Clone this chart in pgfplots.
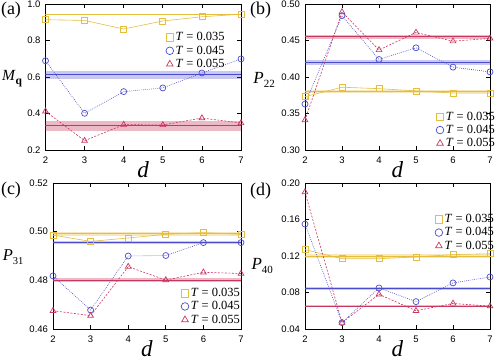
\documentclass[border=0pt]{standalone}
\usepackage{pgfplots}
\pgfplotsset{compat=1.18}
\usepackage{fontspec}
\setmainfont{Liberation Serif}
\setsansfont{Liberation Sans}
\definecolor{cy}{RGB}{228,190,60}
\definecolor{cb}{RGB}{75,75,205}
\definecolor{cr}{RGB}{200,55,95}
\pgfplotsset{
  panel/.style={
    scale only axis, height=146pt, anchor=south west,
    xmin=2, xmax=7, xtick={2,3,4,5,6,7},
    tick align=inside, major tick length=4pt,
    axis line style={line width=0.9pt},
    tick style={black, line width=0.6pt},
    /pgf/number format/assume math mode=true,
    ticklabel style={font=\sffamily\fontsize{9.5}{11}\selectfont},
    xticklabel style={yshift=-3pt},
    yticklabel style={xshift=-1.5pt},
    xlabel={\fontsize{23}{24}\selectfont\textit{d}},
    every axis x label/.style={at={(axis description cs:0.5,-0.136)}, anchor=center, inner sep=0pt},
    legend cell align=left,
    every legend image post/.style={mark size=3.8pt},
  },
  bandY/.style={draw=none, fill=cy, fill opacity=0.35, forget plot},
  bandB/.style={draw=none, fill=cb, fill opacity=0.3, forget plot},
  bandR/.style={draw=none, fill=cr, fill opacity=0.35, forget plot},
  meanY/.style={cy, line width=0.9pt, forget plot},
  meanB/.style={cb, line width=0.9pt, forget plot},
  meanR/.style={cr, line width=0.9pt, forget plot},
  lineY/.style={cy, line width=0.6pt, solid, forget plot},
  lineB/.style={cb, line width=0.6pt, dash pattern=on 0.8pt off 1.2pt, forget plot},
  lineR/.style={cr, line width=0.6pt, dash pattern=on 2pt off 1.5pt, forget plot},
  markY/.style={color=cy, only marks, mark=square, mark size=3pt, mark options={draw=cy, line width=0.7pt, solid}},
  markB/.style={color=cb, only marks, mark=o, mark size=3pt, mark options={draw=cb, line width=0.7pt, solid}},
  markR/.style={color=cr, only marks, mark=triangle, mark size=3.3pt, mark options={draw=cr, line width=0.7pt, solid}},
}
\begin{document}
\begin{tikzpicture}[x=1pt,y=1pt]
\path[use as bounding box] (0,0) rectangle (498,359);
% ---------------- (a)
\begin{axis}[panel, at={(45.5pt,209pt)}, width=195.5pt,
  ymin=0.2, ymax=1.0, ytick={0.2,0.4,0.6,0.8,1.0},
  yticklabel style={/pgf/number format/.cd, fixed, fixed zerofill, precision=1},
  ylabel={\fontsize{15.5}{16}\selectfont\textit{M}\raisebox{-3.5pt}{\fontsize{11.5}{12}\selectfont\textbf{q}}},
  every axis y label/.style={at={(axis description cs:-0.223,0.49)}, anchor=west, inner sep=0pt},
  legend style={draw=none, fill=none, font=\fontsize{12.5}{14}\selectfont, row sep=-0.5pt, at={(axis description cs:0.600,0.833)}, anchor=north west}]
\addplot[bandY] coordinates {(2,0.937) (7,0.937) (7,0.945) (2,0.945)};
\addplot[bandB] coordinates {(2,0.591) (7,0.591) (7,0.635) (2,0.635)};
\addplot[bandR] coordinates {(2,0.304) (7,0.304) (7,0.360) (2,0.360)};
\addplot[meanY] coordinates {(2,0.941) (7,0.941)};
\addplot[meanB] coordinates {(2,0.613) (7,0.613)};
\addplot[meanR] coordinates {(2,0.332) (7,0.332)};
\addplot[lineY] coordinates {(2,0.914) (3,0.910) (4,0.863) (5,0.907) (6,0.930) (7,0.944)};
\addplot[lineB] coordinates {(2,0.689) (3,0.401) (4,0.520) (5,0.540) (6,0.622) (7,0.699)};
\addplot[lineR] coordinates {(2,0.412) (3,0.251) (4,0.339) (5,0.337) (6,0.375) (7,0.348)};
\addplot[markY] coordinates {(2,0.914) (3,0.910) (4,0.863) (5,0.907) (6,0.930) (7,0.944)};
\addplot[markB] coordinates {(2,0.689) (3,0.401) (4,0.520) (5,0.540) (6,0.622) (7,0.699)};
\addplot[markR] coordinates {(2,0.412) (3,0.251) (4,0.339) (5,0.337) (6,0.375) (7,0.348)};
\legend{\textit{T} = 0.035, \textit{T} = 0.045, \textit{T} = 0.055}
\end{axis}
% ---------------- (b)
\begin{axis}[panel, at={(305pt,209pt)}, width=185pt,
  ymin=0.30, ymax=0.50, ytick={0.30,0.35,0.40,0.45,0.50},
  yticklabel style={/pgf/number format/.cd, fixed, fixed zerofill, precision=2},
  ylabel={\fontsize{17}{18}\selectfont\textit{P}\raisebox{-4pt}{\fontsize{11}{12}\selectfont 22}},
  every axis y label/.style={at={(axis description cs:-0.28,0.48)}, anchor=west, inner sep=0pt},
  legend style={draw=none, fill=none, font=\fontsize{12.5}{14}\selectfont, row sep=-0.5pt, at={(axis description cs:0.692,0.29)}, anchor=north west}]
\addplot[bandY] coordinates {(2,0.378) (7,0.378) (7,0.382) (2,0.382)};
\addplot[bandB] coordinates {(2,0.417) (7,0.417) (7,0.423) (2,0.423)};
\addplot[bandR] coordinates {(2,0.452) (7,0.452) (7,0.458) (2,0.458)};
\addplot[meanY] coordinates {(2,0.380) (7,0.380)};
\addplot[meanB] coordinates {(2,0.420) (7,0.420)};
\addplot[meanR] coordinates {(2,0.455) (7,0.455)};
\addplot[lineY] coordinates {(2,0.373) (3,0.386) (4,0.384) (5,0.381) (6,0.378) (7,0.378)};
\addplot[lineB] coordinates {(2,0.363) (3,0.484) (4,0.424) (5,0.440) (6,0.4135) (7,0.407)};
\addplot[lineR] coordinates {(2,0.341) (3,0.489) (4,0.437) (5,0.461) (6,0.449) (7,0.453)};
\addplot[markY] coordinates {(2,0.373) (3,0.386) (4,0.384) (5,0.381) (6,0.378) (7,0.378)};
\addplot[markB] coordinates {(2,0.363) (3,0.484) (4,0.424) (5,0.440) (6,0.4135) (7,0.407)};
\addplot[markR] coordinates {(2,0.341) (3,0.489) (4,0.437) (5,0.461) (6,0.449) (7,0.453)};
\legend{\textit{T} = 0.035, \textit{T} = 0.045, \textit{T} = 0.055}
\end{axis}
% ---------------- (c)
\begin{axis}[panel, at={(53pt,30pt)}, width=188pt,
  ymin=0.46, ymax=0.52, ytick={0.46,0.48,0.50,0.52},
  yticklabel style={/pgf/number format/.cd, fixed, fixed zerofill, precision=2},
  ylabel={\fontsize{16.5}{17}\selectfont\textit{P}\raisebox{-4pt}{\fontsize{10.5}{11}\selectfont 31}},
  every axis y label/.style={at={(axis description cs:-0.268,0.49)}, anchor=west, inner sep=0pt},
  legend style={draw=none, fill=none, font=\fontsize{12.5}{14}\selectfont, row sep=-0.5pt, at={(axis description cs:0.665,0.308)}, anchor=north west}]
\addplot[bandY] coordinates {(2,0.4984) (7,0.4984) (7,0.5000) (2,0.5000)};
\addplot[bandB] coordinates {(2,0.4948) (7,0.4948) (7,0.4962) (2,0.4962)};
\addplot[bandR] coordinates {(2,0.4793) (7,0.4793) (7,0.4809) (2,0.4809)};
\addplot[meanY] coordinates {(2,0.4992) (7,0.4992)};
\addplot[meanB] coordinates {(2,0.4955) (7,0.4955)};
\addplot[meanR] coordinates {(2,0.4801) (7,0.4801)};
\addplot[lineY] coordinates {(2,0.4986) (3,0.4960) (4,0.4974) (5,0.4989) (6,0.4996) (7,0.4989)};
\addplot[lineB] coordinates {(2,0.4818) (3,0.4678) (4,0.4900) (5,0.4902) (6,0.4955) (7,0.4955)};
\addplot[lineR] coordinates {(2,0.4675) (3,0.4655) (4,0.4856) (5,0.4801) (6,0.4833) (7,0.4828)};
\addplot[markY] coordinates {(2,0.4986) (3,0.4960) (4,0.4974) (5,0.4989) (6,0.4996) (7,0.4989)};
\addplot[markB] coordinates {(2,0.4818) (3,0.4678) (4,0.4900) (5,0.4902) (6,0.4955) (7,0.4955)};
\addplot[markR] coordinates {(2,0.4675) (3,0.4655) (4,0.4856) (5,0.4801) (6,0.4833) (7,0.4828)};
\legend{\textit{T} = 0.035, \textit{T} = 0.045, \textit{T} = 0.055}
\end{axis}
% ---------------- (d)
\begin{axis}[panel, at={(305pt,30pt)}, width=185pt,
  ymin=0.04, ymax=0.20, ytick={0.04,0.08,0.12,0.16,0.20},
  yticklabel style={/pgf/number format/.cd, fixed, fixed zerofill, precision=2},
  ylabel={\fontsize{17}{18}\selectfont\textit{P}\raisebox{-4pt}{\fontsize{11}{12}\selectfont 40}},
  every axis y label/.style={at={(axis description cs:-0.29,0.43)}, anchor=west, inner sep=0pt},
  legend style={draw=none, fill=none, font=\fontsize{12.5}{14}\selectfont, row sep=-0.5pt, at={(axis description cs:0.686,0.814)}, anchor=north west}]
\addplot[bandY] coordinates {(2,0.118) (7,0.118) (7,0.122) (2,0.122)};
\addplot[bandB] coordinates {(2,0.0825) (7,0.0825) (7,0.0855) (2,0.0855)};
\addplot[bandR] coordinates {(2,0.064) (7,0.064) (7,0.066) (2,0.066)};
\addplot[meanY] coordinates {(2,0.120) (7,0.120)};
\addplot[meanB] coordinates {(2,0.084) (7,0.084)};
\addplot[meanR] coordinates {(2,0.065) (7,0.065)};
\addplot[lineY] coordinates {(2,0.127) (3,0.117) (4,0.117) (5,0.119) (6,0.1215) (7,0.1225)};
\addplot[lineB] coordinates {(2,0.155) (3,0.047) (4,0.085) (5,0.070) (6,0.0905) (7,0.097)};
\addplot[lineR] coordinates {(2,0.190) (3,0.047) (4,0.078) (5,0.060) (6,0.068) (7,0.065)};
\addplot[markY] coordinates {(2,0.127) (3,0.117) (4,0.117) (5,0.119) (6,0.1215) (7,0.1225)};
\addplot[markB] coordinates {(2,0.155) (3,0.047) (4,0.085) (5,0.070) (6,0.0905) (7,0.097)};
\addplot[markR] coordinates {(2,0.190) (3,0.047) (4,0.078) (5,0.060) (6,0.068) (7,0.065)};
\legend{\textit{T} = 0.035, \textit{T} = 0.045, \textit{T} = 0.055}
\end{axis}
% panel labels
\node[font=\fontsize{18}{19}\selectfont] at (11,348.5) {(a)};
\node[font=\fontsize{18}{19}\selectfont] at (260.5,348.5) {(b)};
\node[font=\fontsize{18}{19}\selectfont] at (11,168.5) {(c)};
\node[font=\fontsize{18}{19}\selectfont] at (260.5,168) {(d)};
\end{tikzpicture}
\end{document}
